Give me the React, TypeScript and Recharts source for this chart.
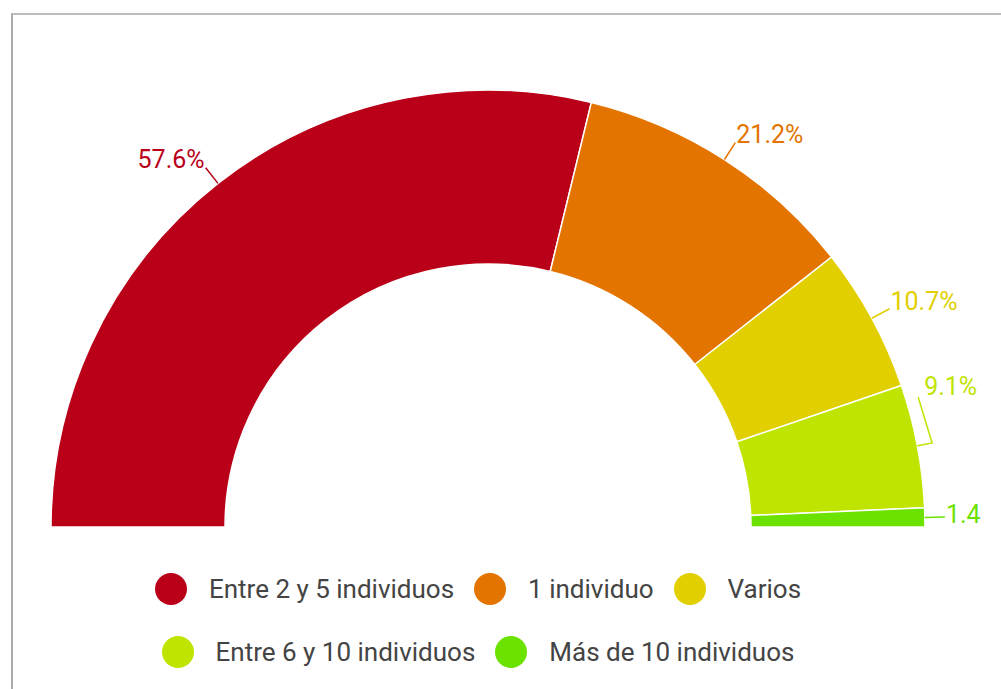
import { PieChart, Pie, Cell, Legend } from "recharts";

const categories = [
  "Entre 2 y 5 individuos",
  "1 individuo",
  "Varios",
  "Entre 6 y 10 individuos",
  "Más de 10 individuos",
];
const shares = [57.6, 21.2, 10.7, 9.1, 1.4];
const colors = ["#BA0019", "#E37400", "#E2CF00", "#BFE400", "#6BE200"];

const data = categories.map((name, i) => ({ name, value: shares[i] }));

const RAD = Math.PI / 180;
const FONT = "Roboto, sans-serif";
const CHART_W = 986;

function SliceLabel(props: any) {
  const { cx, cy, midAngle, outerRadius, value, index } = props;
  const at = (r: number, a: number) => [cx + r * Math.cos(a * RAD), cy - r * Math.sin(a * RAD)];
  const color = colors[index];
  const s = Math.sin(midAngle * RAD);
  const right = Math.cos(midAngle * RAD) >= 0;
  const [x0, y0] = at(outerRadius, midAngle);
  const [x1, y1] = at(outerRadius + 20, midAngle);
  let pts = `${x0},${y0} ${x1},${y1}`;
  let tx = right ? x1 + 1 : x1 - 1;
  let ty = y1 + 6 * (1 - s) ** 2;
  if (index === 3) {
    // original pushes this label up, with a bent leader line
    const [ex, ey] = at(outerRadius + 15, midAngle);
    tx = ex - 8;
    ty = ey - 48;
    pts = `${x0},${y0} ${ex},${ey} ${tx - 6},${ty + 2}`;
  }
  // the original drops the "%" when the label runs into the right edge
  const full = `${value}%`;
  const text = right && tx + full.length * 13 > CHART_W ? `${value}` : full;
  return (
    <g>
      <polyline points={pts} fill="none" stroke={color} strokeWidth={1.5} />
      <text x={tx} y={ty} fill={color} fontSize={25} fontFamily={FONT} textAnchor={right ? "start" : "end"}>
        {text}
      </text>
    </g>
  );
}

function LegendRows() {
  const items = categories.map((label, i) => ({ label, color: colors[i] }));
  const rows = [items.slice(0, 3), items.slice(3)];
  return (
    <div style={{ fontFamily: FONT }}>
      {rows.map((row, r) => (
        <div
          key={r}
          style={{ display: "flex", justifyContent: "center", alignItems: "center", gap: 20, height: 32, marginBottom: r === 0 ? 31 : 0 }}
        >
          {row.map((it) => (
            <div key={it.label} style={{ display: "flex", alignItems: "center" }}>
              <span style={{ display: "inline-block", width: 32, height: 32, borderRadius: "50%", background: it.color, marginRight: 22 }} />
              <span style={{ fontSize: 26, color: "#444444", lineHeight: "32px", whiteSpace: "nowrap" }}>{it.label}</span>
            </div>
          ))}
        </div>
      ))}
    </div>
  );
}

export default function App() {
  return (
    <div style={{ position: "fixed", left: 0, top: 0, width: 1001, height: 689, overflow: "hidden", background: "#fff", fontFamily: FONT }}>
      <div
        style={{ position: "absolute", left: 11, top: 13, width: 1100, height: 800, borderTop: "2px solid #bcbcbc", borderLeft: "2px solid #ababab" }}
      />
      <div style={{ position: "absolute", left: 0, top: 0 }}>
        <PieChart width={CHART_W} height={689} margin={{ top: 0, right: 0, bottom: 0, left: 0 }}>
          <Pie
            data={data}
            dataKey="value"
            nameKey="name"
            cx={488}
            cy={527}
            innerRadius={263}
            outerRadius={437}
            startAngle={180}
            endAngle={0}
            stroke="#ffffff"
            strokeWidth={1.5}
            label={SliceLabel}
            labelLine={false}
            isAnimationActive={false}
          >
            {data.map((d, i) => (
              <Cell key={d.name} fill={colors[i]} />
            ))}
          </Pie>
          <Legend content={LegendRows} width={956} wrapperStyle={{ left: 0, top: 573, width: 956 }} />
        </PieChart>
      </div>
    </div>
  );
}
